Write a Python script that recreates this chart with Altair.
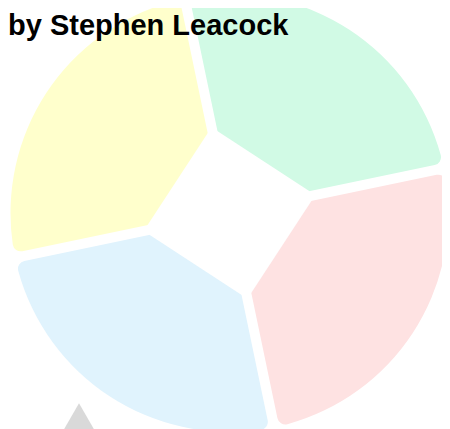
import math
import altair as alt
import pandas as pd

# --- data -------------------------------------------------------------
categories = ["A", "B", "C", "D"]
values = [25, 25, 25, 25]
slice_colors = ["#d1fae5", "#fee2e2", "#e0f3fd", "#ffffcc"]
title_text = ["by Stephen Leacock"]

df = pd.DataFrame({
    "category": categories,
    "value": values,
    "order": list(range(len(categories))),
})

start_deg = -11.8
start = math.radians(start_deg)

arcs = alt.Chart(df).mark_arc(
    outerRadius=219, innerRadius=50, padAngle=0.0445, cornerRadius=8
).encode(
    theta=alt.Theta("value:Q", stack=True,
                    scale=alt.Scale(range=[start, start + 2 * math.pi])),
    color=alt.Color("category:N",
                    scale=alt.Scale(domain=categories, range=slice_colors),
                    legend=None),
    order=alt.Order("order:Q"),
)

# square hole in the middle of the ring
hole = alt.Chart(pd.DataFrame({"k": [0]})).mark_point(
    shape="square", filled=True, color="white", opacity=1,
    size=124 * 124, angle=45 + start_deg, strokeWidth=0
).encode(
    x=alt.value({"expr": "width/2"}),
    y=alt.value({"expr": "height/2"}),
)

# grey marker at the lower left
marker = alt.Chart(pd.DataFrame({"k": [0]})).mark_point(
    shape="triangle-up", filled=True, color="#d9d9d9", opacity=1,
    size=1156, strokeWidth=0
).encode(
    x=alt.value(62),
    y=alt.value(410),
)

# title line
title = alt.Chart(pd.DataFrame({"t": title_text})).mark_text(
    align="left", baseline="alphabetic", fontSize=29, fontWeight="bold",
    font="Liberation Sans", color="#000000"
).encode(
    x=alt.value(-9),
    y=alt.value(26.5),
    text="t:N",
)

chart = alt.layer(arcs, hole, marker, title).properties(
    width=425,
    height=410,
    padding={"left": 9, "top": 0, "right": 0, "bottom": 20},
    autosize=alt.AutoSizeParams(type="none"),
).configure_view(stroke=None)

chart.save("out.html", embed_options={"renderer": "svg", "actions": False})
